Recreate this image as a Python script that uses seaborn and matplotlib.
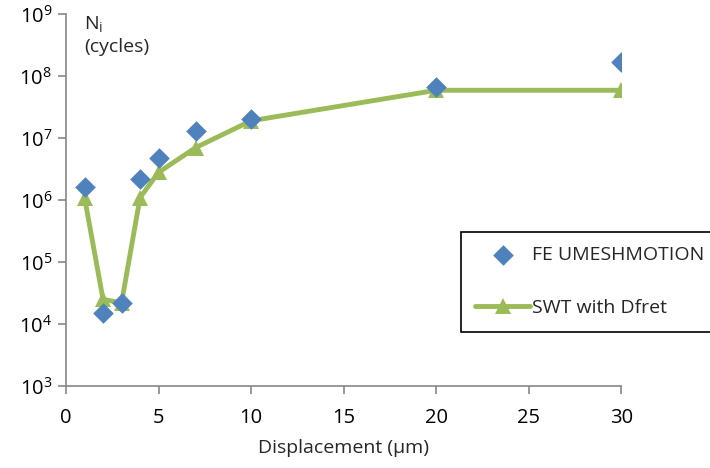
import numpy as np
import pandas as pd
import seaborn as sns
import matplotlib.pyplot as plt
from matplotlib.ticker import LogLocator

# Data
disp = [1, 2, 3, 4, 5, 7, 10, 20, 30]
fe_umesh = [1.6e6, 1.5e4, 2.2e4, 2.2e6, 4.8e6, 1.3e7, 2.0e7, 6.6e7, 1.7e8]
swt_dfret = [1.1e6, 2.5e4, 2.2e4, 1.1e6, 2.8e6, 7.0e6, 1.9e7, 5.9e7, 5.9e7]
x_ticks = [0, 5, 10, 15, 20, 25, 30]
y_ticks = [1e3, 1e4, 1e5, 1e6, 1e7, 1e8, 1e9]
y_labels = [r'10$^{%d}$' % p for p in range(3, 10)]

sns.set_style('white')
plt.rcParams['font.family'] = ['Open Sans', 'DejaVu Sans']
plt.rcParams['mathtext.default'] = 'regular'

df = pd.DataFrame({'disp': disp, 'fe': fe_umesh, 'swt': swt_dfret})

fig = plt.figure(figsize=(7.1, 4.68), dpi=100)
ax = fig.add_axes([0.093, 0.175, 0.782, 0.795])

sns.lineplot(data=df, x='disp', y='swt', ax=ax, color='#9BBB59', linewidth=3.5,
             marker='^', markersize=12, markeredgewidth=0, label='SWT with Dfret')
sns.scatterplot(data=df, x='disp', y='fe', ax=ax, color='#4F81BD', marker='D',
                s=110, linewidth=0, label='FE UMESHMOTION', zorder=3)

ax.set_yscale('log')
ax.set_xlim(0, 30)
ax.set_ylim(1e3, 1e9)
ax.set_xticks(x_ticks)
ax.set_yticks(y_ticks)
ax.set_yticklabels(y_labels)
ax.yaxis.set_minor_locator(LogLocator(subs=[]))
ax.tick_params(axis='both', labelsize=14.5, colors='#888888', length=6, width=1.2,
               direction='out', left=True, bottom=True)
for lbl in ax.get_xticklabels() + ax.get_yticklabels():
    lbl.set_color('black')
ax.tick_params(axis='y', pad=4)
ax.tick_params(axis='x', pad=10)

for side in ['top', 'right']:
    ax.spines[side].set_visible(False)
for side in ['left', 'bottom']:
    ax.spines[side].set_color('#888888')
    ax.spines[side].set_linewidth(1.2)

ax.set_xlabel('Displacement (μm)', fontsize=14, labelpad=8)
ax.set_ylabel('')
ax.text(0.033, 1.0, 'N$_{i}$\n(cycles)', transform=ax.transAxes, fontsize=14,
        va='top', ha='left', linespacing=1.25)

handles, labels = ax.get_legend_handles_labels()
ax.get_legend().remove()
order = [1, 0]
leg = fig.legend([handles[i] for i in order], [labels[i] for i in order],
                 loc='upper left', bbox_to_anchor=(0.649, 0.505), fontsize=14,
                 frameon=True, fancybox=False, edgecolor='black', framealpha=1,
                 handlelength=2.8, handletextpad=0.1, labelspacing=1.8,
                 borderpad=0.75, borderaxespad=0)
leg.get_frame().set_linewidth(1.2)

fig.savefig('out.png', dpi=100)
